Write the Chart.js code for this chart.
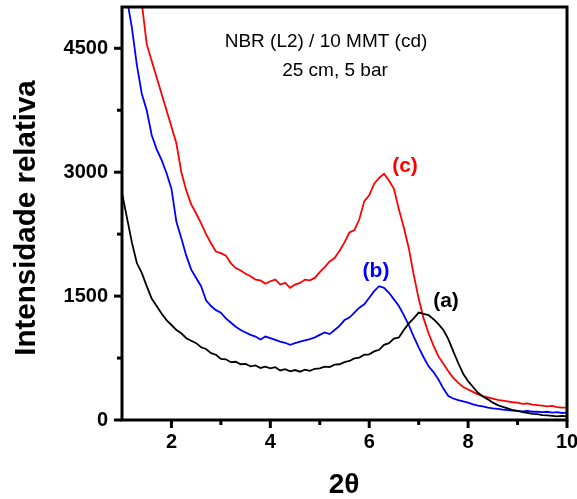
<!DOCTYPE html>
<html>
<head>
<meta charset="utf-8">
<script src="https://cdn.jsdelivr.net/npm/chart.js@4.4.1/dist/chart.umd.min.js"></script>
<style>
  html, body { margin: 0; padding: 0; background: #fff; }
  #wrap { width: 577px; height: 499px; }
</style>
</head>
<body>
<div id="wrap"><canvas id="xrdChart" width="577" height="499"></canvas></div>
<script>
// 2-theta positions (deg)
const twoTheta = [1.0, 1.1, 1.2, 1.3, 1.4, 1.5, 1.6, 1.7, 1.8, 1.9,
    2.0, 2.1, 2.2, 2.3, 2.4, 2.5, 2.6, 2.7, 2.8, 2.9,
    3.0, 3.1, 3.2, 3.3, 3.4, 3.5, 3.6, 3.7, 3.8, 3.9,
    4.0, 4.1, 4.2, 4.3, 4.4, 4.5, 4.6, 4.7, 4.8, 4.9,
    5.0, 5.1, 5.2, 5.3, 5.4, 5.5, 5.6, 5.7, 5.8, 5.9,
    6.0, 6.1, 6.2, 6.3, 6.4, 6.5, 6.6, 6.7, 6.8, 6.9,
    7.0, 7.1, 7.2, 7.3, 7.4, 7.5, 7.6, 7.7, 7.8, 7.9,
    8.0, 8.1, 8.2, 8.3, 8.4, 8.5, 8.6, 8.7, 8.8, 8.9,
    9.0, 9.1, 9.2, 9.3, 9.4, 9.5, 9.6, 9.7, 9.8, 9.9, 10.0];

// (a) black
const curveA = [2750, 2450, 2150, 1900, 1780, 1620, 1470, 1380, 1290, 1210,
    1150, 1090, 1050, 990, 960, 930, 880, 860, 810, 790,
    740, 735, 700, 705, 675, 680, 650, 660, 630, 645,
    625, 640, 600, 615, 590, 605, 585, 610, 595, 620,
    625, 645, 640, 670, 675, 700, 715, 745, 755, 790,
    795, 830, 850, 910, 930, 985, 1000, 1090, 1170, 1230,
    1300, 1285, 1270, 1220, 1160, 1090, 980, 830, 690, 560,
    470, 400, 330, 285, 250, 210, 180, 160, 140, 120,
    110, 95, 85, 75, 70, 60, 55, 50, 45, 50, 45];

// (b) blue
const curveB = [5500, 5100, 4750, 4300, 3950, 3750, 3450, 3280, 3150, 2990,
    2800, 2400, 2200, 1990, 1820, 1720, 1620, 1450, 1380, 1330,
    1300, 1230, 1180, 1130, 1090, 1060, 1030, 1010, 975, 1010,
    990, 970, 950, 935, 910, 930, 950, 965, 980, 1000,
    1030, 1060, 1040, 1090, 1140, 1210, 1240, 1300, 1360, 1400,
    1480, 1560, 1620, 1600, 1540, 1460, 1380, 1270, 1150, 1010,
    880, 760, 650, 580, 490, 380, 290, 260, 240, 225,
    210, 190, 175, 165, 150, 140, 135, 125, 120, 115,
    110, 105, 110, 100, 100, 95, 100, 90, 95, 85, 90];

// (c) red
const curveC = [6600, 6200, 5800, 5400, 5050, 4550, 4350, 4150, 3950, 3750,
    3550, 3350, 3000, 2780, 2610, 2500, 2380, 2250, 2140, 2040,
    2020, 1990, 1900, 1840, 1810, 1770, 1740, 1700, 1690, 1650,
    1680, 1700, 1640, 1660, 1600, 1640, 1660, 1700, 1690, 1720,
    1790, 1850, 1920, 1960, 2050, 2150, 2270, 2300, 2430, 2650,
    2720, 2860, 2930, 2980, 2900, 2800, 2550, 2330, 2080, 1760,
    1470, 1230, 1050, 900, 770, 680, 590, 510, 450, 400,
    370, 340, 310, 290, 275, 260, 245, 235, 225, 215,
    210, 195, 200, 185, 180, 175, 165, 170, 155, 150, 150];

const xMajorTicks = [2, 4, 6, 8, 10];
const xMinorTicks = [3, 5, 7, 9];
const yMajorTicks = [0, 1500, 3000, 4500];
const yMinorTicks = [750, 2250, 3750];

const seriesLabels = ["(a)", "(b)", "(c)"];
const titleLines = ["NBR (L2) / 10 MMT (cd)", "25 cm, 5 bar"];

function toPoints(ys) {
    return twoTheta.map((x, i) => ({ x: x, y: ys[i] }));
}

// frame, tick marks, titles and curve labels
const decorations = {
    id: "decorations",
    afterDraw(chart) {
        const ctx = chart.ctx;
        const a = chart.chartArea;
        const xs = chart.scales.x;
        const ys = chart.scales.y;
        ctx.save();
        ctx.strokeStyle = "#000";
        ctx.lineWidth = 3;
        ctx.strokeRect(a.left, a.top, a.right - a.left, a.bottom - a.top);

        xMajorTicks.forEach(v => {
            let px = xs.getPixelForValue(v);
            ctx.beginPath(); ctx.moveTo(px, a.bottom); ctx.lineTo(px, a.bottom + 8); ctx.stroke();
        });
        xMinorTicks.forEach(v => {
            let px = xs.getPixelForValue(v);
            ctx.beginPath(); ctx.moveTo(px, a.bottom); ctx.lineTo(px, a.bottom + 5); ctx.stroke();
        });
        yMajorTicks.forEach(v => {
            let py = ys.getPixelForValue(v);
            ctx.beginPath(); ctx.moveTo(a.left, py); ctx.lineTo(a.left - 8, py); ctx.stroke();
        });
        yMinorTicks.forEach(v => {
            let py = ys.getPixelForValue(v);
            ctx.beginPath(); ctx.moveTo(a.left, py); ctx.lineTo(a.left - 5, py); ctx.stroke();
        });

        ctx.fillStyle = "#000";
        ctx.textAlign = "center";
        ctx.textBaseline = "middle";
        ctx.font = "19px 'Liberation Sans', Arial, sans-serif";
        ctx.fillText(titleLines[0], 326, 42);
        ctx.fillText(titleLines[1], 335, 71);

        ctx.font = "bold 21px 'Liberation Sans', Arial, sans-serif";
        ctx.fillStyle = "#000000";
        ctx.fillText(seriesLabels[0], 446, 301);
        ctx.fillStyle = "#0000ff";
        ctx.fillText(seriesLabels[1], 376, 271);
        ctx.fillStyle = "#ff0000";
        ctx.fillText(seriesLabels[2], 405, 166);

        ctx.fillStyle = "#000";
        ctx.font = "bold 28px 'Liberation Sans', Arial, sans-serif";
        ctx.fillText("2\u03b8", 344, 485);

        ctx.translate(27, 218);
        ctx.rotate(-Math.PI / 2);
        ctx.font = "bold 29.5px 'Liberation Sans', Arial, sans-serif";
        ctx.fillText("Intensidade relativa", 0, 0);
        ctx.restore();
    }
};

const tickFont = { family: "'Liberation Sans', Arial, sans-serif", size: 20, weight: "bold" };

new Chart(document.getElementById("xrdChart"), {
    type: "line",
    data: {
        datasets: [
            { label: seriesLabels[0], data: toPoints(curveA), borderColor: "#000000", borderWidth: 1.8 },
            { label: seriesLabels[1], data: toPoints(curveB), borderColor: "#0000ff", borderWidth: 1.8 },
            { label: seriesLabels[2], data: toPoints(curveC), borderColor: "#ff0000", borderWidth: 1.8 }
        ]
    },
    options: {
        responsive: false,
        animation: false,
        layout: { padding: { top: 7, right: 10, left: 0, bottom: 0 } },
        elements: { point: { radius: 0 }, line: { tension: 0 } },
        plugins: { legend: { display: false }, tooltip: { enabled: false } },
        scales: {
            x: {
                type: "linear",
                min: 1,
                max: 10,
                grid: { display: false, drawTicks: false },
                border: { display: false },
                afterBuildTicks: s => { s.ticks = xMajorTicks.map(v => ({ value: v })); },
                afterFit: s => { s.height = 79; s.paddingLeft = 0; s.paddingRight = 0; },
                ticks: {
                    padding: 10,
                    color: "#000",
                    font: tickFont,
                    callback: v => String(v)
                }
            },
            y: {
                min: 0,
                max: 5000,
                grid: { display: false, drawTicks: false },
                border: { display: false },
                afterBuildTicks: s => { s.ticks = yMajorTicks.map(v => ({ value: v })); },
                afterFit: s => { s.width = 122; s.paddingTop = 0; s.paddingBottom = 0; },
                ticks: {
                    padding: 14,
                    color: "#000",
                    font: tickFont,
                    callback: v => String(v)
                }
            }
        }
    },
    plugins: [decorations]
});
</script>
</body>
</html>
